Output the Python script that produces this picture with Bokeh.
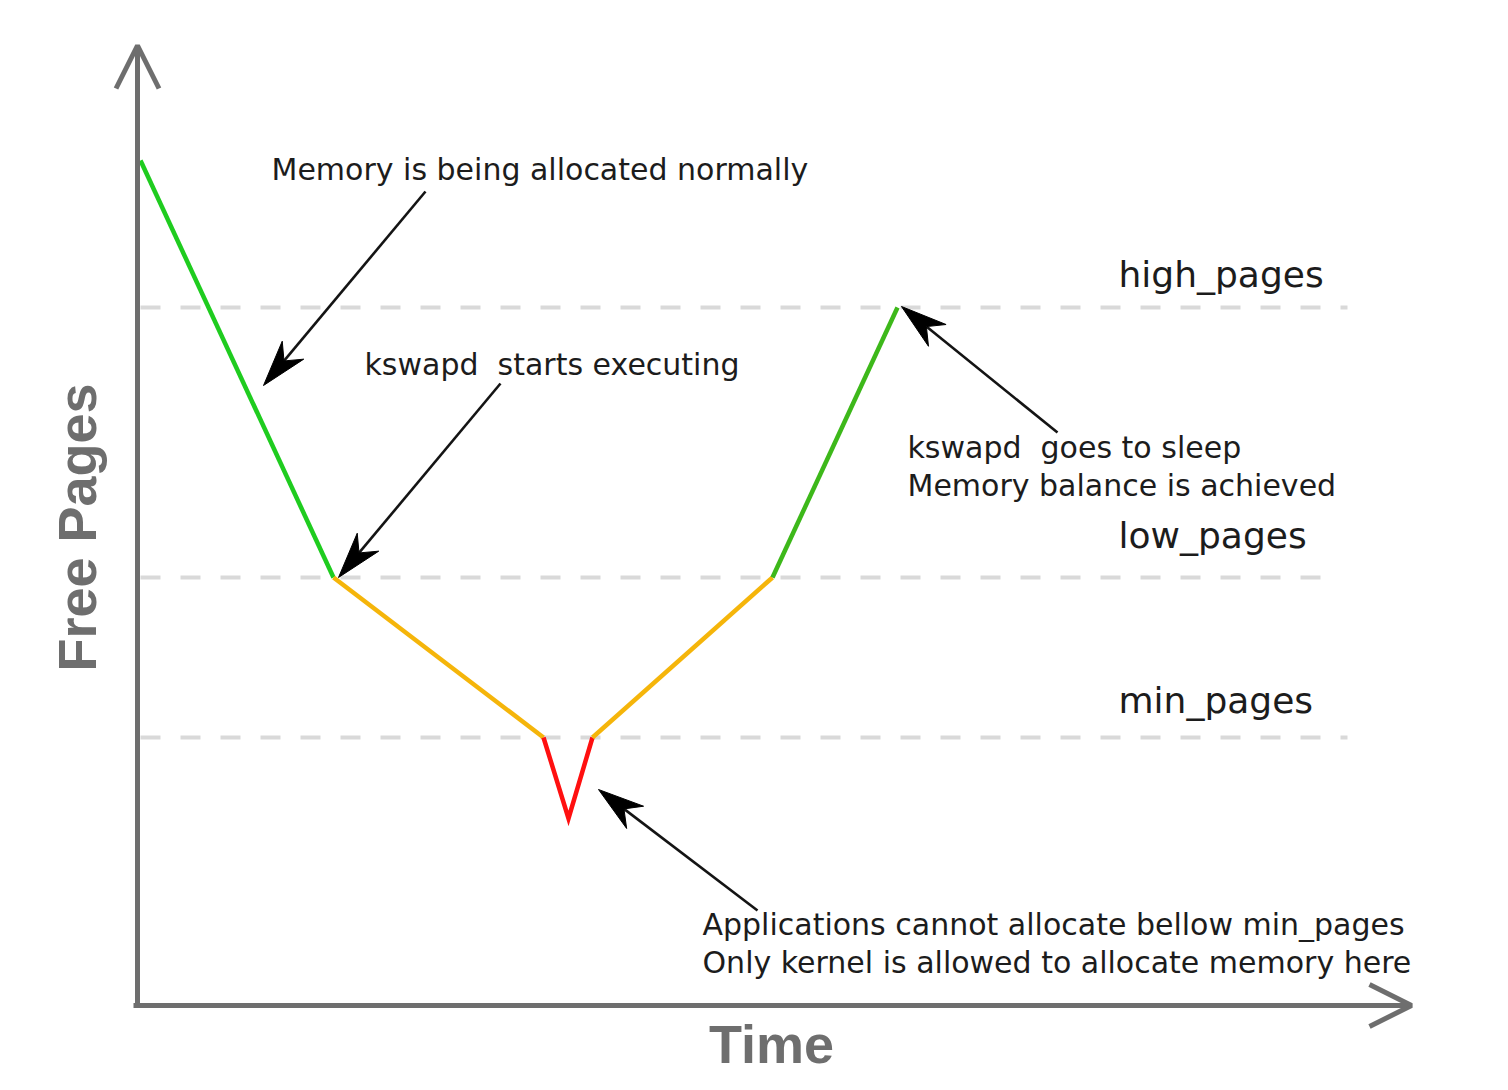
import numpy as np
from bokeh.plotting import figure
from bokeh.models import Range1d, Arrow, OpenHead
from bokeh.core.properties import value
from bokeh.embed import file_html
from bokeh.resources import INLINE

# ---------------- data ----------------
time = [3, 196, 406, 431, 455, 635, 760]
free_pages = [845, 428, 268, 187, 268, 428, 698]
# index ranges of the curve's phases
phase_bounds = [(0, 1), (1, 2), (2, 4), (4, 5), (5, 6)]

level_names = ["high_pages", "low_pages", "min_pages"]
level_values = [698, 428, 268]

note_lines = [
    ["Memory is being allocated normally"],
    ["kswapd\u00a0 starts executing"],
    ["kswapd\u00a0 goes to sleep", "Memory balance is achieved"],
    ["Applications cannot allocate bellow min_pages",
     "Only kernel is allowed to allocate memory here"],
]

x_label = "Time"
y_label = "Free Pages"

# ---------------- layout / style ----------------
W, H = 1492, 1080
phase_colors = ["#1fcc1f", "#f5b50a", "#ff1010", "#f5b50a", "#3db81a"]
level_x0 = 3
level_x1 = [1210, 1191, 1210]
level_label_x = 981
level_label_dy = [33, 42, 37]
note_xy = [(134, 836), (227, 641), (770, 558), (565, 81)]
note_line_gap = 38
note_tail = [(288, 814), (363, 622), (920, 573), (620, 95)]
note_tip = [(126, 620), (201, 428), (764, 699), (461, 216)]
axis_x_end = 1274
axis_y_end = 960
axis_color = "#6e6e6e"
text_color = "#1c1c1c"

p = figure(width=W, height=H, output_backend="svg", toolbar_location=None,
           x_range=Range1d(-137, -137 + W), y_range=Range1d(1005 - H, 1005),
           min_border=0, x_axis_location=None, y_axis_location=None)
p.outline_line_color = None
p.xgrid.visible = False
p.ygrid.visible = False
p.background_fill_color = "white"
p.border_fill_color = "white"

# dashed threshold levels
p.segment(x0=[level_x0] * len(level_values), y0=level_values, x1=level_x1, y1=level_values,
          line_color="#d9d9d9", line_width=4, line_dash="20 20")

# level labels
p.text(x=[level_label_x] * len(level_names),
       y=[v + d for v, d in zip(level_values, level_label_dy)],
       text=level_names, text_font=value("DejaVu Sans"), text_font_size="36px",
       text_color=text_color, text_baseline="alphabetic", text_align="left")

# axes with open arrow heads
p.add_layout(Arrow(end=OpenHead(size=43, line_color=axis_color, line_width=5),
                   x_start=0, y_start=0, x_end=0, y_end=axis_y_end,
                   line_color=axis_color, line_width=5))
p.add_layout(Arrow(end=OpenHead(size=42, line_color=axis_color, line_width=5),
                   x_start=-4, y_start=0, x_end=axis_x_end, y_end=0,
                   line_color=axis_color, line_width=5))

# free pages curve, coloured by phase
for (a, b), c in zip(phase_bounds, phase_colors):
    p.line(time[a:b + 1], free_pages[a:b + 1], line_color=c, line_width=4.5,
           line_join="miter")

# notes
nx, ny, nt = [], [], []
for (x, y), lines in zip(note_xy, note_lines):
    for i, t in enumerate(lines):
        nx.append(x)
        ny.append(y - i * note_line_gap)
        nt.append(t)
p.text(x=nx, y=ny, text=nt, text_font=value("DejaVu Sans"), text_font_size="30px",
       text_color=text_color, text_baseline="alphabetic", text_align="left")

# pointer arrows with notched heads
L, HW, N = 46, 14, 32
sx0, sy0, sx1, sy1, hx, hy = [], [], [], [], [], []
for (tx, ty), (px_, py_) in zip(note_tail, note_tip):
    d = np.array([px_ - tx, py_ - ty], dtype=float)
    u = d / np.hypot(*d)
    n = np.array([-u[1], u[0]])
    tip = np.array([px_, py_], dtype=float)
    back = tip - u * L
    w1 = back + n * HW
    w2 = back - n * HW
    notch = tip - u * N
    sx0.append(tx); sy0.append(ty); sx1.append(notch[0]); sy1.append(notch[1])
    hx.append([tip[0], w1[0], notch[0], w2[0]])
    hy.append([tip[1], w1[1], notch[1], w2[1]])
p.segment(x0=sx0, y0=sy0, x1=sx1, y1=sy1, line_color="#141414", line_width=2.6)
p.patches(xs=hx, ys=hy, fill_color="#000000", line_color="#000000", line_width=1)

# axis titles
p.text(x=[-61], y=[478], text=[y_label], angle=np.pi / 2,
       text_font=value("Liberation Sans"), text_font_style="bold", text_font_size="54px",
       text_color=axis_color, text_baseline="alphabetic", text_align="center")
p.text(x=[634], y=[-38], text=[x_label],
       text_font=value("Liberation Sans"), text_font_style="bold", text_font_size="54px",
       text_color=axis_color, text_baseline="alphabetic", text_align="center")

open("out.html", "w").write(file_html(p, INLINE))
